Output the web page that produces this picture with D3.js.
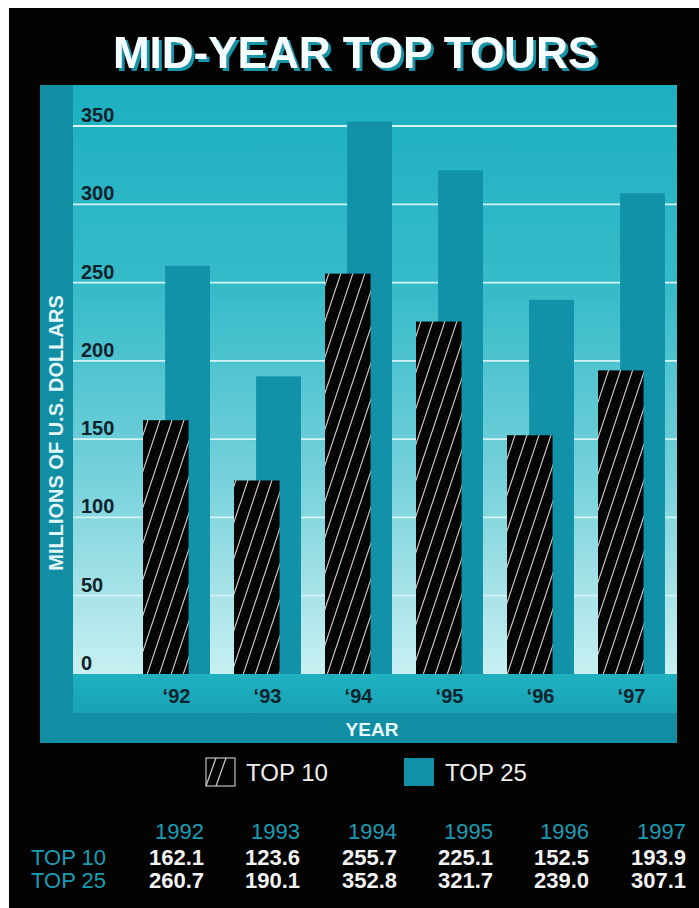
<!DOCTYPE html>
<html>
<head>
<meta charset="utf-8">
<script src="https://cdn.jsdelivr.net/npm/d3@7/dist/d3.min.js"></script>
<style>
  html, body { margin: 0; padding: 0; background: #ffffff; }
  svg { display: block; }
  text { font-family: "Liberation Sans", Arial, Helvetica, sans-serif; }
</style>
</head>
<body>
<svg id="chart" width="699" height="908"></svg>
<script>
// ---- data ----
const years = ["1992", "1993", "1994", "1995", "1996", "1997"];
const yearLabels = ["\u201892", "\u201893", "\u201894", "\u201895", "\u201896", "\u201897"];
const top10 = [162.1, 123.6, 255.7, 225.1, 152.5, 193.9];
const top25 = [260.7, 190.1, 352.8, 321.7, 239.0, 307.1];
const yTicks = [0, 50, 100, 150, 200, 250, 300, 350];
const seriesNames = ["TOP 10", "TOP 25"];

const svg = d3.select("#chart");
const defs = svg.append("defs");

// background (black card with white scan margin)
svg.append("rect").attr("x", 9).attr("y", 8).attr("width", 690).attr("height", 900).attr("fill", "#030303");

// geometry
const panel = { x0: 40, x1: 677, y0: 85, y1: 743 };
const plot = { x0: 73, x1: 677, y0: 85, y1: 674 };
const bandBottom = 713;

// gradients
const g = defs.append("linearGradient").attr("id", "plotGrad")
  .attr("x1", 0).attr("y1", 0).attr("x2", 0).attr("y2", 1);
[["0%", "#1cafc1"], ["35%", "#37bbc9"], ["65%", "#72d0da"], ["85%", "#a4e2e7"], ["100%", "#c8f0f2"]]
  .forEach(([o, c]) => g.append("stop").attr("offset", o).attr("stop-color", c));

const bg = defs.append("linearGradient").attr("id", "bandGrad")
  .attr("x1", 0).attr("y1", 0).attr("x2", 0).attr("y2", 1);
[["0%", "#20b1c1"], ["100%", "#17a3b5"]]
  .forEach(([o, c]) => bg.append("stop").attr("offset", o).attr("stop-color", c));

// title shadow filter
const f = defs.append("filter").attr("id", "shadow").attr("x", "-5%").attr("y", "-20%").attr("width", "110%").attr("height", "140%");
f.append("feOffset").attr("in", "SourceAlpha").attr("dx", 3).attr("dy", 3).attr("result", "off");
f.append("feFlood").attr("flood-color", "#1594a8").attr("result", "col");
f.append("feComposite").attr("in", "col").attr("in2", "off").attr("operator", "in").attr("result", "sh");
const fm = f.append("feMerge");
fm.append("feMergeNode").attr("in", "sh");
fm.append("feMergeNode").attr("in", "SourceGraphic");

// hatch pattern
const pat = defs.append("pattern").attr("id", "hatch")
  .attr("patternUnits", "userSpaceOnUse").attr("width", 12).attr("height", 36);
pat.append("rect").attr("width", 12).attr("height", 36).attr("fill", "#050505");
[-12, 0, 12].forEach(dx => {
  pat.append("line").attr("x1", dx).attr("y1", 36).attr("x2", dx + 12).attr("y2", 0)
    .attr("stroke", "#d9cccc").attr("stroke-width", 1.1);
});

// panel frame
svg.append("rect").attr("x", panel.x0).attr("y", panel.y0)
  .attr("width", panel.x1 - panel.x0).attr("height", panel.y1 - panel.y0).attr("fill", "#128ea4");
svg.append("rect").attr("x", plot.x0).attr("y", plot.y0)
  .attr("width", plot.x1 - plot.x0).attr("height", plot.y1 - plot.y0).attr("fill", "url(#plotGrad)");
svg.append("rect").attr("x", plot.x0).attr("y", plot.y1)
  .attr("width", plot.x1 - plot.x0).attr("height", bandBottom - plot.y1).attr("fill", "url(#bandGrad)");

// scales
const y = d3.scaleLinear().domain([0, 350]).range([674, 126]);
const x = d3.scaleBand().domain(years).range([119, 689]).paddingInner(0.264).paddingOuter(0.264);
const bw = x.bandwidth();

// gridlines
svg.append("g").selectAll("line").data(yTicks.filter(d => d > 0)).join("line")
  .attr("x1", plot.x0).attr("x2", plot.x1)
  .attr("y1", d => y(d)).attr("y2", d => y(d))
  .attr("stroke", "#d2f4f6").attr("stroke-width", 1.8);

// y tick labels
svg.append("g").selectAll("text").data(yTicks).join("text")
  .attr("x", 81).attr("y", d => y(d) - 4)
  .attr("font-size", 20).attr("font-weight", "bold").attr("fill", "#0e232b")
  .text(d => d);

// bars
const rows = years.map((yr, i) => ({ yr, t10: top10[i], t25: top25[i] }));
svg.append("g").selectAll("rect").data(rows).join("rect")
  .attr("x", d => x(d.yr) + bw * 0.33).attr("width", bw * 0.67)
  .attr("y", d => y(d.t25)).attr("height", d => y(0) - y(d.t25))
  .attr("fill", "#1192a8");
svg.append("g").selectAll("rect").data(rows).join("rect")
  .attr("x", d => x(d.yr)).attr("width", bw * 0.68)
  .attr("y", d => y(d.t10)).attr("height", d => y(0) - y(d.t10))
  .attr("fill", "url(#hatch)");

// x labels
svg.append("g").selectAll("text").data(years).join("text")
  .attr("x", d => x(d) + bw / 2).attr("y", 703)
  .attr("text-anchor", "middle").attr("font-size", 20).attr("font-weight", "bold").attr("fill", "#0e232b")
  .text((d, i) => yearLabels[i]);

// axis titles
svg.append("text").attr("x", 372).attr("y", 736).attr("text-anchor", "middle")
  .attr("font-size", 19).attr("font-weight", "bold").attr("fill", "#e8fbfc").text("YEAR");
svg.append("text").attr("transform", "translate(63,433) rotate(-90)").attr("text-anchor", "middle")
  .attr("font-size", 20).attr("font-weight", "bold").attr("fill", "#e3f7f8").text("MILLIONS OF U.S. DOLLARS");

// title with shadow
svg.append("text").attr("x", 355).attr("y", 68).attr("text-anchor", "middle")
  .attr("font-size", 44).attr("font-weight", "bold").attr("fill", "#f4fdff")
  .attr("filter", "url(#shadow)").text("MID-YEAR TOP TOURS");

// legend
const leg = svg.append("g");
leg.append("rect").attr("x", 206).attr("y", 758).attr("width", 29).attr("height", 28)
  .attr("fill", "none").attr("stroke", "#bfbfbf").attr("stroke-width", 1.2);
[[206, 786, 216, 758], [216, 786, 226, 758]].forEach(([a, b, c, d2]) =>
  leg.append("line").attr("x1", a).attr("y1", b).attr("x2", c).attr("y2", d2)
    .attr("stroke", "#cfcfcf").attr("stroke-width", 1.2));
leg.append("text").attr("x", 246).attr("y", 781).attr("font-size", 24).attr("fill", "#eeeeee").text(seriesNames[0]);
leg.append("rect").attr("x", 404).attr("y", 758).attr("width", 30).attr("height", 28).attr("fill", "#1192a8");
leg.append("text").attr("x", 445).attr("y", 781).attr("font-size", 24).attr("fill", "#eeeeee").text(seriesNames[1]);

// table
const colRight = [204, 300, 397, 493, 589, 686];
const tbl = svg.append("g");
tbl.selectAll("text.yr").data(years).join("text").attr("class", "yr")
  .attr("x", (d, i) => colRight[i]).attr("y", 839).attr("text-anchor", "end")
  .attr("font-size", 22).attr("fill", "#1a9db4").text(d => d);
tbl.append("text").attr("x", 31).attr("y", 865).attr("font-size", 22).attr("fill", "#1a9db4").text(seriesNames[0]);
tbl.append("text").attr("x", 31).attr("y", 888).attr("font-size", 22).attr("fill", "#1a9db4").text(seriesNames[1]);
tbl.selectAll("text.v10").data(top10).join("text").attr("class", "v10")
  .attr("x", (d, i) => colRight[i]).attr("y", 865).attr("text-anchor", "end")
  .attr("font-size", 22).attr("font-weight", "bold").attr("fill", "#f2f2f2").text(d => d.toFixed(1));
tbl.selectAll("text.v25").data(top25).join("text").attr("class", "v25")
  .attr("x", (d, i) => colRight[i]).attr("y", 888).attr("text-anchor", "end")
  .attr("font-size", 22).attr("font-weight", "bold").attr("fill", "#f2f2f2").text(d => d.toFixed(1));
</script>
</body>
</html>
